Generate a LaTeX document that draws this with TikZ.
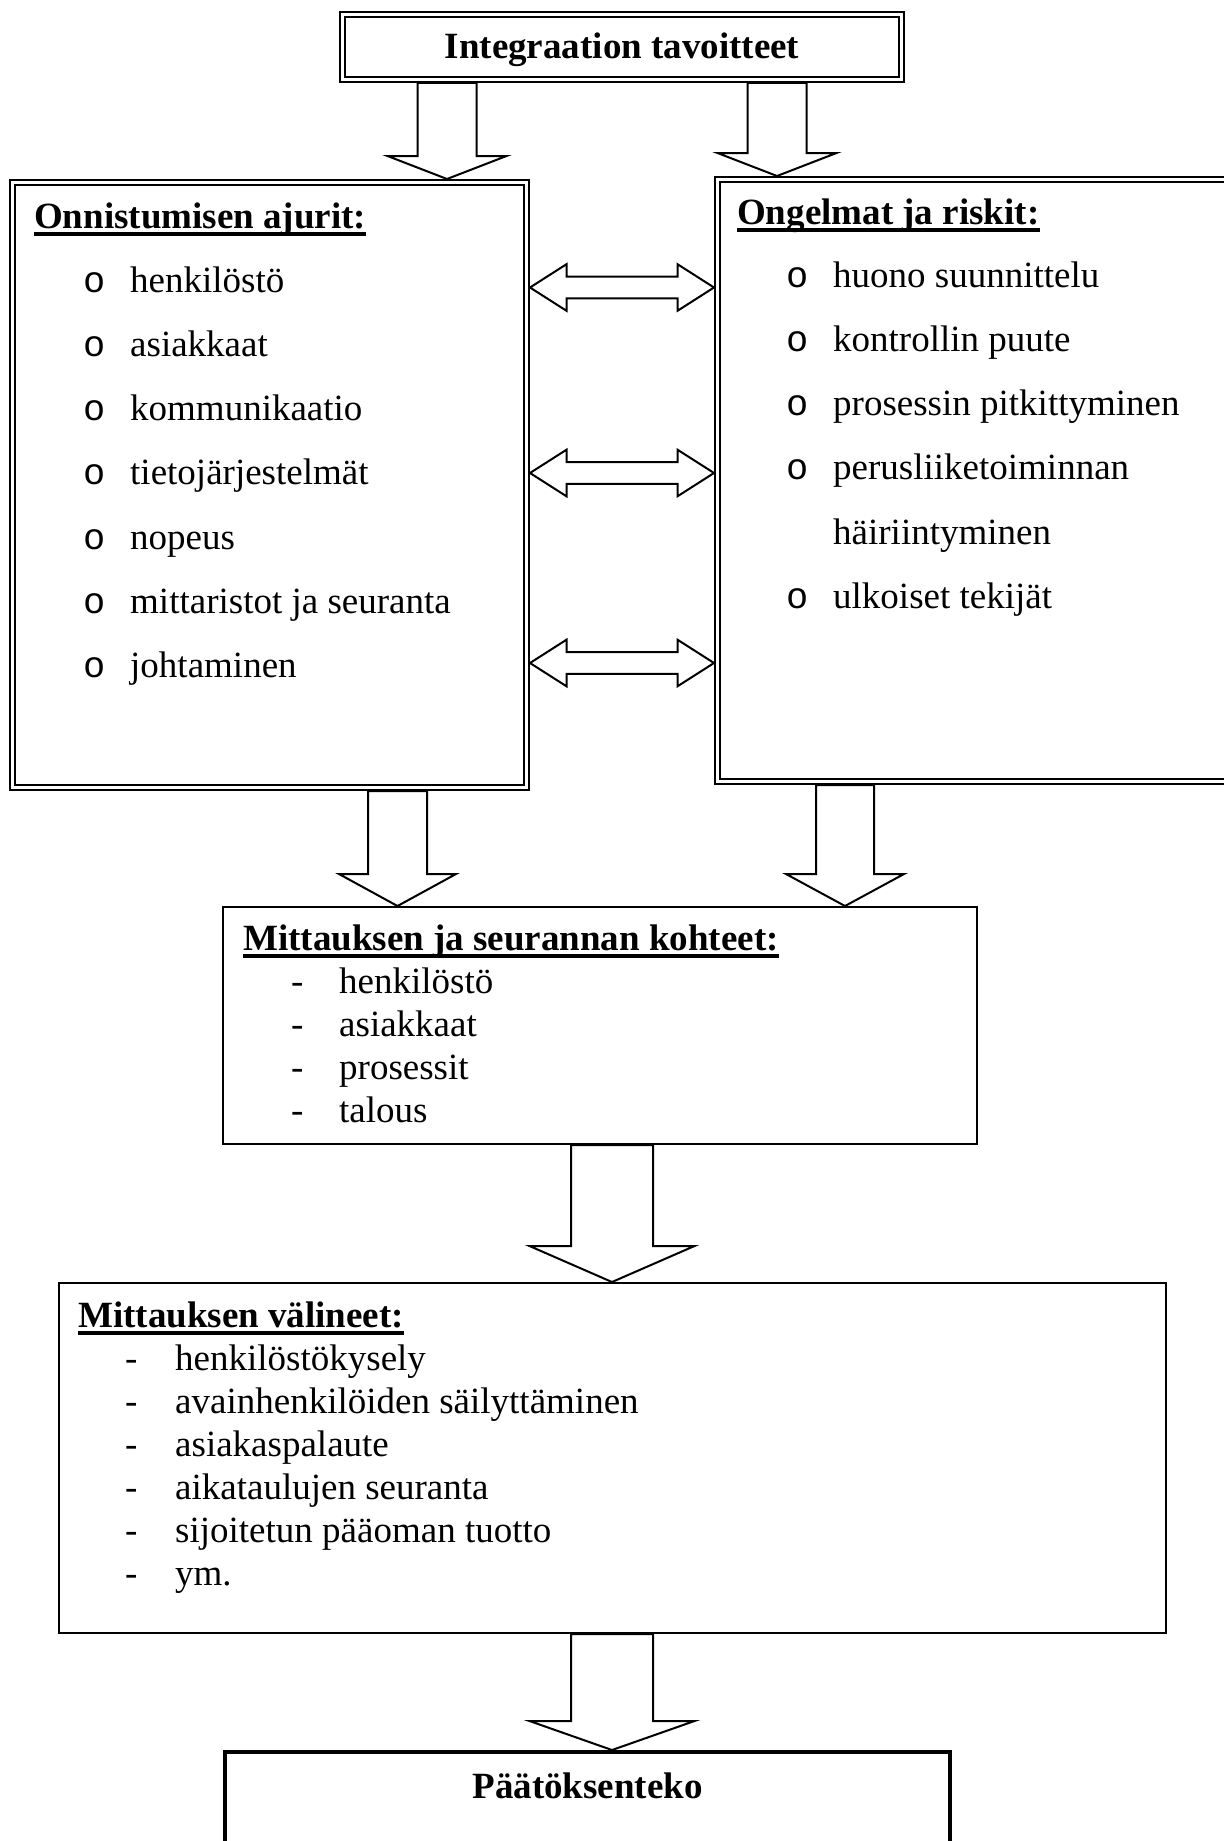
\documentclass[tikz,border=0pt]{standalone}
\usepackage{fontspec}
\setmainfont{Liberation Serif}
\newfontfamily\bulletfont{Liberation Mono}
\usetikzlibrary{calc}
\newcommand{\blt}{\makebox[47pt][l]{\bulletfont o}}
\newcommand{\nob}{\hspace*{47pt}}
\newcommand{\dsh}[1]{\makebox[#1][l]{-}}
\tikzset{
    dbox/.style={draw, line width=2pt, double, double distance=3pt, outer sep=3.5pt, inner sep=0pt},
    sbox/.style={draw, line width=2pt, outer sep=1pt, inner sep=0pt},
    tbox/.style={draw, line width=4pt, outer sep=2pt, inner sep=0pt},
    txt/.style={anchor=base west, inner sep=0pt, font=\fontsize{37}{44}\selectfont},
    hd/.style={txt, font=\fontsize{37}{44}\selectfont\bfseries},
    uln/.style={line width=3.5pt},
    blk/.style={draw, line width=2pt, line join=miter},
    dnarrow/.style args={#1/#2/#3}{blk, to path={
        let \p1=(\tikztostart), \p2=(\tikztotarget) in
        (\x2-#1,\y1) -- (\x2-#1,\y2+#3) -- (\x2-#2,\y2+#3) -- (\x2,\y2)
        -- (\x2+#2,\y2+#3) -- (\x2+#1,\y2+#3) -- (\x2+#1,\y1) -- cycle}},
    lrarrow/.style args={#1/#2/#3}{blk, to path={
        let \p1=(\tikztostart), \p2=(\tikztotarget) in
        (\x1,\y1) -- (\x1+#3,\y1+#2) -- (\x1+#3,\y1+#1) -- (\x2-#3,\y1+#1)
        -- (\x2-#3,\y1+#2) -- (\x2,\y1) -- (\x2-#3,\y1-#2) -- (\x2-#3,\y1-#1)
        -- (\x1+#3,\y1-#1) -- (\x1+#3,\y1-#2) -- cycle}},
}

\begin{document}
\begin{tikzpicture}[x=1pt, y=-1pt]
    \useasboundingbox (0,0) rectangle (1223,1841);

    \node[dbox, minimum width=559pt, minimum height=65pt] (goal) at (622,47) {};
    \node[dbox, minimum width=514pt, minimum height=605pt] (drv) at (269.5,485) {};
    \node[dbox, minimum width=522.5pt, minimum height=602pt] (risk) at (978.75,480.5) {};
    \node[sbox, minimum width=754pt, minimum height=237pt] (kohde) at (600,1025.5) {};
    \node[sbox, minimum width=1107pt, minimum height=350pt] (valine) at (612.5,1458) {};
    \node[tbox, minimum width=725pt, minimum height=128pt] (paatos) at (587.5,1816) {};

    \node[hd, anchor=base] (goalt) at (622,59) {Integraation tavoitteet};
    \node[hd, anchor=base] (paatost) at (587.5,1798) {Päätöksenteko};

    \node[hd] (drvh) at (34,228) {Onnistumisen ajurit:};
    \node[hd] (riskh) at (737,224) {Ongelmat ja riskit:};
    \node[hd] (kohdeh) at (243,950) {Mittauksen ja seurannan kohteet:};
    \node[hd] (valineh) at (78,1327) {Mittauksen välineet:};
    \foreach \h in {drvh,riskh,kohdeh,valineh}
        \draw[uln] ([yshift=-6pt]\h.base west) -- ([yshift=-6pt]\h.base east);

    \foreach \lbl [count=\i] in {henkilöstö, asiakkaat, kommunikaatio, tietojärjestelmät,
            nopeus, mittaristot ja seuranta, johtaminen}
        \node[txt] (d\i) at (83,{292+64.3*(\i-1)}) {\blt\lbl};
    \foreach \lbl [count=\i] in {\blt huono suunnittelu, \blt kontrollin puute,
            \blt prosessin pitkittyminen, \blt perusliiketoiminnan, \nob häiriintyminen,
            \blt ulkoiset tekijät}
        \node[txt] (r\i) at (786,{287+64.3*(\i-1)}) {\lbl};
    \foreach \lbl [count=\i] in {henkilöstö, asiakkaat, prosessit, talous}
        \node[txt] (k\i) at (291,{993+43*(\i-1)}) {\dsh{48pt}\lbl};
    \foreach \lbl [count=\i] in {henkilöstökysely, avainhenkilöiden säilyttäminen,
            asiakaspalaute, aikataulujen seuranta, sijoitetun pääoman tuotto, ym.}
        \node[txt] (v\i) at (125,{1370+43*(\i-1)}) {\dsh{50pt}\lbl};

    \coordinate (ga) at (447,0);
    \coordinate (gb) at (777,0);
    \coordinate (ma) at (397.5,0);
    \coordinate (mb) at (845,0);
    \coordinate (lc) at (612,0);
    \draw[dnarrow=29.5pt/59.5pt/23pt] (goal.south -| ga) to (drv.north -| ga);
    \draw[dnarrow=29.5pt/59.5pt/23pt] (goal.south -| gb) to (risk.north -| gb);
    \draw[dnarrow=29.5pt/58.5pt/32pt] (drv.south -| ma) to (kohde.north -| ma);
    \draw[dnarrow=29pt/59pt/32pt] (risk.south -| mb) to (kohde.north -| mb);
    \draw[dnarrow=41pt/82.5pt/36pt] (kohde.south -| lc) to (valine.north -| lc);
    \draw[dnarrow=41pt/82.5pt/29pt] (valine.south -| lc) to (paatos.north -| lc);

    \foreach \yy [count=\i] in {287.5, 473, 663} {
        \coordinate (da\i) at (0,\yy);
        \draw[lrarrow=10.8pt/23.3pt/36.5pt] (drv.east |- da\i) to (risk.west |- da\i);
    }
\end{tikzpicture}
\end{document}
